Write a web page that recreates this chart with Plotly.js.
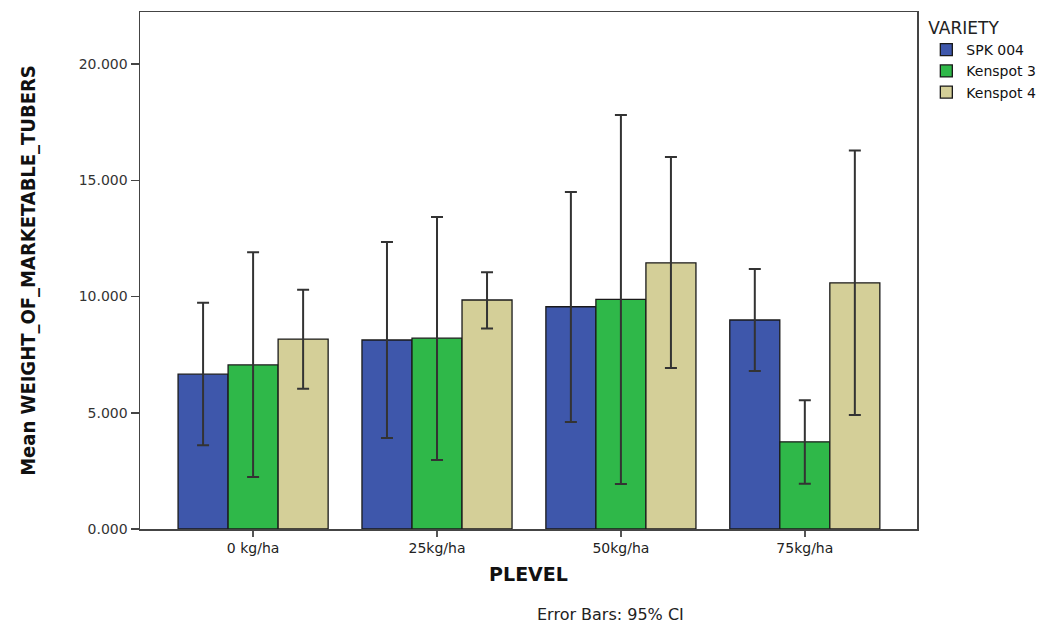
<!DOCTYPE html>
<html>
<head>
<meta charset="utf-8">
<script src="https://cdn.plot.ly/plotly-3.0.1.min.js"></script>
<style>html,body{margin:0;padding:0;background:#fff}#chart{width:1055px;height:628px}</style>
</head>
<body>
<div id="chart"></div>
<script>
const categories = ["0 kg/ha", "25kg/ha", "50kg/ha", "75kg/ha"];
const seriesNames = ["SPK 004", "Kenspot 3", "Kenspot 4"];
const seriesColors = ["#3E57AB", "#2FB849", "#D4CF98"];
const meanSPK004 = [6.66, 8.13, 9.56, 8.99];
const upperSPK004 = [9.73, 12.35, 14.50, 11.18];
const lowerSPK004 = [3.60, 3.91, 4.60, 6.80];
const meanKenspot3 = [7.06, 8.21, 9.88, 3.75];
const upperKenspot3 = [11.90, 13.42, 17.81, 5.54];
const lowerKenspot3 = [2.24, 2.97, 1.94, 1.95];
const meanKenspot4 = [8.17, 9.85, 11.45, 10.59];
const upperKenspot4 = [10.29, 11.05, 16.00, 16.28];
const lowerKenspot4 = [6.03, 8.63, 6.93, 4.90];
const yTickValues = [0, 5, 10, 15, 20];
const yTickLabels = ["0.000", "5.000", "10.000", "15.000", "20.000"];

const means = [meanSPK004, meanKenspot3, meanKenspot4];
const uppers = [upperSPK004, upperKenspot3, upperKenspot4];
const lowers = [lowerSPK004, lowerKenspot3, lowerKenspot4];

const traces = seriesNames.map((name, i) => ({
  type: "bar",
  name: name,
  x: categories,
  y: means[i],
  marker: {color: seriesColors[i], line: {color: "#1a1a1a", width: 1.3}},
  error_y: {
    type: "data",
    symmetric: false,
    array: uppers[i].map((u, k) => u - means[i][k]),
    arrayminus: means[i].map((m, k) => m - lowers[i][k]),
    color: "#333",
    thickness: 2,
    width: 6
  }
}));

const layout = {
  width: 1055, height: 628,
  margin: {l: 140, r: 138, t: 12, b: 99},
  paper_bgcolor: "#fff", plot_bgcolor: "#fff",
  barmode: "group", bargap: 0.184, bargroupgap: 0,
  font: {family: "DejaVu Sans, Liberation Sans, sans-serif", color: "#222"},
  showlegend: true,
  legend: {
    x: 1.012, y: 1.0, xanchor: "left", yanchor: "top",
    bgcolor: "rgba(0,0,0,0)",
    title: {text: "VARIETY", font: {size: 17, color: "#222"}},
    font: {size: 14, color: "#111"},
    tracegroupgap: 0, itemwidth: 30
  },
  xaxis: {
    type: "category",
    range: [-0.615, 3.61],
    showline: true, linecolor: "#444", linewidth: 1.5, mirror: true,
    ticks: "outside", ticklen: 6, tickwidth: 2, tickcolor: "#555",
    tickfont: {size: 14, color: "#222"},
    showgrid: false, zeroline: false,
    title: {text: "<b>PLEVEL</b>", font: {size: 19, color: "#111"}, standoff: 12}
  },
  yaxis: {
    range: [0, 22.24],
    tickvals: yTickValues,
    ticktext: yTickLabels,
    showline: true, linecolor: "#444", linewidth: 1.5, mirror: true,
    ticks: "outside", ticklen: 8, tickwidth: 1.5, tickcolor: "#444",
    tickfont: {size: 14, color: "#333"},
    showgrid: false, zeroline: false,
    title: {text: "<b>Mean WEIGHT_OF_MARKETABLE_TUBERS</b>", font: {family: "Liberation Sans Narrow, DejaVu Sans Condensed, Arial Narrow, sans-serif", size: 20, color: "#111"}, standoff: 37}
  },
  annotations: [{
    text: "Error Bars: 95% CI", xref: "paper", yref: "paper",
    x: 0.605, y: -0.165, xanchor: "center", yanchor: "middle",
    showarrow: false, font: {size: 16, color: "#222"}
  }]
};

Plotly.newPlot("chart", traces, layout, {displayModeBar: false, staticPlot: true});
</script>
</body>
</html>
